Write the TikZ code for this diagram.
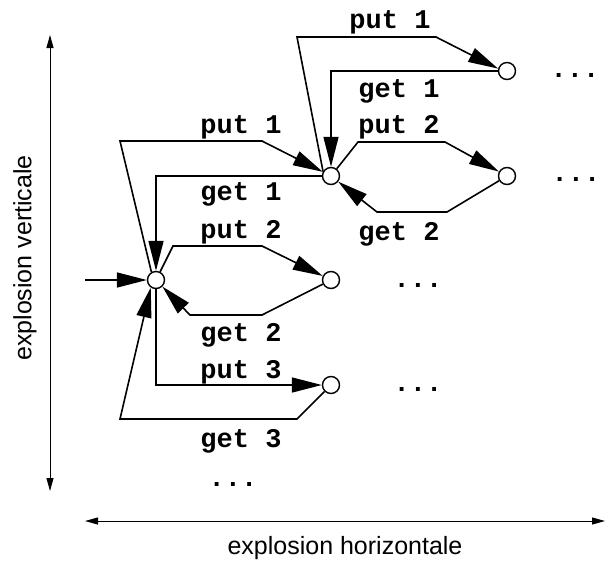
\documentclass[tikz,border=0pt]{standalone}
\usepackage{fontspec}
\setmainfont{Liberation Sans}
\newfontfamily\monob{Liberation Mono}
\usetikzlibrary{arrows.meta}
\begin{document}
\begin{tikzpicture}[x=1pt,y=-1pt,
  st/.style={circle,draw,line width=1.4pt,minimum size=17pt,inner sep=0pt},
  conn/.style={line width=1.6pt,-{Triangle[length=30pt,width=15pt]}},
  lab/.style={font=\monob\bfseries\fontsize{27}{27}\selectfont,anchor=base,inner sep=0pt},
  axis/.style={line width=1pt,{Triangle[length=13pt,width=7pt]}-{Triangle[length=13pt,width=7pt]}},
  axlab/.style={font=\fontsize{25}{25}\selectfont,inner sep=0pt}]
\useasboundingbox (0,0) rectangle (605,563);
% states
\node[st] (A) at (156,280) {};
\node[st] (B) at (331,176) {};
\node[st] (C) at (507,71) {};
\node[st] (D) at (507,176) {};
\node[st] (E) at (331,280) {};
\node[st] (F) at (331,385) {};
\coordinate (in) at (85,280);
% input
\draw[conn] (in) -- (A);
% A -> B / B -> A
\draw[conn] (A.120) -- (120,141) -- (262,141) -- (B);
\draw[conn] (B.west) -- (156,176) -- (A);
% A <-> E
\draw[conn] (A) -- (173,246) -- (262,246) -- (E);
\draw[conn] (E) -- (262,315) -- (190,315) -- (A);
% A <-> F
\draw[conn] (A.south) -- (156,385) -- (F.west);
\draw[conn] (F) -- (297,419) -- (120,419) -- (A.235);
% B <-> C
\draw[conn] (B.150) -- (297,37) -- (436,37) -- (C.165);
\draw[conn] (C.west) -- (331,71) -- (B);
% B <-> D
\draw[conn] (B) -- (358,142) -- (445,142) -- (D);
\draw[conn] (D) -- (447,212) -- (377,212) -- (B);
% labels
\node[lab] (l1) at (241,133) {put 1};
\node[lab] (l2) at (241,200) {get 1};
\node[lab] (l3) at (241,238) {put 2};
\node[lab] (l4) at (241,341) {get 2};
\node[lab] (l5) at (241,378) {put 3};
\node[lab] (l6) at (241,447) {get 3};
\node[lab] (l7) at (390,28) {put 1};
\node[lab] (l8) at (399,97) {get 1};
\node[lab] (l9) at (399,133) {put 2};
\node[lab] (l10) at (399,240) {get 2};
% dots
\node[lab] (d1) at (575,77) {...};
\node[lab] (d2) at (576,181) {...};
\node[lab] (d3) at (418,287) {...};
\node[lab] (d4) at (418,391) {...};
\node[lab] (d5) at (233,486) {...};
% axes
\coordinate (vt) at (50,35);
\coordinate (vb) at (50,491);
\draw[axis] (vt) -- (vb);
\node[axlab,rotate=90] (vl) at (25,258) {explosion verticale};
\coordinate (hl) at (85,521);
\coordinate (hr) at (605,521);
\draw[axis] (hl) -- (hr);
\node[axlab] (hlab) at (345,548) {explosion horizontale};
\end{tikzpicture}
\end{document}
